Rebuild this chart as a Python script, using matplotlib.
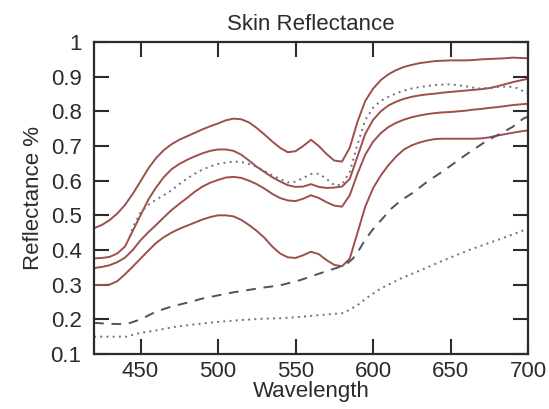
import matplotlib
matplotlib.use("Agg")
import matplotlib.pyplot as plt

# wavelength grid used by the four measured skin spectra (solid lines)
wl = [420, 425, 430, 435, 440, 445, 450, 455, 460, 465, 470, 475, 480, 485,
      490, 495, 500, 505, 510, 515, 520, 525, 530, 535, 540, 545, 550, 555,
      560, 565, 570, 575, 580, 585, 590, 595, 600, 605, 610, 615, 620, 625,
      630, 635, 640, 645, 650, 655, 660, 665, 670, 675, 680, 685, 690, 695, 700]

skin_1 = [0.463, 0.472, 0.486, 0.505, 0.530, 0.562, 0.598, 0.635, 0.665, 0.688,
          0.705, 0.718, 0.728, 0.738, 0.748, 0.757, 0.765, 0.774, 0.779, 0.777,
          0.768, 0.752, 0.733, 0.713, 0.695, 0.682, 0.685, 0.700, 0.718, 0.700,
          0.677, 0.658, 0.655, 0.695, 0.770, 0.830, 0.865, 0.890, 0.907, 0.919,
          0.928, 0.934, 0.939, 0.942, 0.945, 0.946, 0.947, 0.947, 0.947, 0.948,
          0.950, 0.951, 0.952, 0.953, 0.955, 0.954, 0.953]
skin_2 = [0.376, 0.377, 0.380, 0.390, 0.410, 0.455, 0.500, 0.545, 0.580, 0.610,
          0.633, 0.648, 0.660, 0.670, 0.679, 0.686, 0.690, 0.690, 0.686, 0.675,
          0.658, 0.640, 0.625, 0.610, 0.598, 0.587, 0.582, 0.583, 0.590, 0.582,
          0.579, 0.580, 0.583, 0.605, 0.670, 0.735, 0.775, 0.800, 0.817, 0.828,
          0.836, 0.842, 0.846, 0.849, 0.851, 0.854, 0.856, 0.858, 0.860, 0.862,
          0.864, 0.867, 0.872, 0.878, 0.884, 0.889, 0.894]
skin_3 = [0.348, 0.351, 0.356, 0.365, 0.378, 0.400, 0.428, 0.451, 0.472, 0.494,
          0.515, 0.533, 0.550, 0.568, 0.583, 0.594, 0.602, 0.609, 0.611, 0.608,
          0.600, 0.590, 0.577, 0.562, 0.550, 0.543, 0.541, 0.548, 0.558, 0.550,
          0.538, 0.528, 0.525, 0.558, 0.620, 0.675, 0.712, 0.737, 0.755, 0.767,
          0.776, 0.783, 0.788, 0.792, 0.795, 0.797, 0.798, 0.800, 0.802, 0.805,
          0.807, 0.810, 0.812, 0.815, 0.818, 0.820, 0.822]
skin_4 = [0.299, 0.299, 0.300, 0.310, 0.330, 0.352, 0.375, 0.398, 0.420, 0.437,
          0.450, 0.461, 0.470, 0.479, 0.488, 0.495, 0.500, 0.500, 0.497, 0.487,
          0.472, 0.455, 0.435, 0.410, 0.390, 0.379, 0.377, 0.385, 0.395, 0.388,
          0.371, 0.357, 0.353, 0.375, 0.450, 0.525, 0.578, 0.615, 0.645, 0.670,
          0.690, 0.702, 0.710, 0.716, 0.720, 0.721, 0.721, 0.721, 0.721, 0.721,
          0.722, 0.725, 0.730, 0.734, 0.738, 0.742, 0.745]

# upper dotted curve
dot_hi_wl = [443, 445, 450, 455, 460, 465, 470, 475, 480, 485, 490, 495, 500,
             505, 510, 515, 520, 525, 530, 535, 540, 545, 550, 555, 560, 565,
             570, 575, 580, 585, 590, 595, 600, 605, 610, 615, 620, 625, 630,
             640, 650, 660, 668, 675, 680, 687, 693, 700]
dot_hi = [0.438, 0.465, 0.508, 0.530, 0.545, 0.558, 0.572, 0.590, 0.606, 0.620,
          0.632, 0.641, 0.648, 0.652, 0.655, 0.654, 0.648, 0.640, 0.628, 0.615,
          0.605, 0.595, 0.597, 0.608, 0.619, 0.620, 0.605, 0.587, 0.588, 0.625,
          0.705, 0.775, 0.810, 0.830, 0.842, 0.852, 0.860, 0.866, 0.870, 0.876,
          0.878, 0.872, 0.866, 0.867, 0.870, 0.872, 0.867, 0.851]

# dashed curve
dash_wl = [420, 430, 441, 450, 460, 470, 482, 490, 501, 510, 520, 530, 540, 553,
           566, 579, 583, 587, 591, 595, 600, 605, 612, 618, 625, 635, 646, 660,
           674, 682, 690, 697, 700]
dash = [0.190, 0.187, 0.186, 0.200, 0.222, 0.237, 0.250, 0.260, 0.270, 0.278,
        0.285, 0.292, 0.298, 0.313, 0.333, 0.352, 0.360, 0.375, 0.400, 0.430,
        0.460, 0.485, 0.520, 0.543, 0.563, 0.597, 0.630, 0.675, 0.717, 0.735,
        0.755, 0.779, 0.785]

# lower dotted curve
dot_lo_wl = [420, 441, 449, 460, 473, 490, 501, 515, 530, 540, 553, 565, 581,
             590, 597, 605, 618, 631, 646, 662, 683, 699]
dot_lo = [0.150, 0.150, 0.160, 0.168, 0.179, 0.188, 0.193, 0.198, 0.202, 0.203,
          0.207, 0.212, 0.218, 0.241, 0.265, 0.289, 0.318, 0.342, 0.371, 0.400,
          0.433, 0.460]

x_ticks = [450, 500, 550, 600, 650, 700]
y_ticks = [0.1, 0.2, 0.3, 0.4, 0.5, 0.6, 0.7, 0.8, 0.9, 1.0]
y_labels = ["0.1", "0.2", "0.3", "0.4", "0.5", "0.6", "0.7", "0.8", "0.9", "1"]

plt.rcParams['font.family'] = ['Liberation Sans', 'DejaVu Sans']
text_col = '#2b2b2b'

fig = plt.figure(figsize=(5.49, 4.09), dpi=100)
ax = fig.add_axes([94 / 549, 55 / 409, 434 / 549, 312 / 409])

solid_col = '#9e4f4c'
for s in (skin_1, skin_2, skin_3, skin_4):
    ax.plot(wl, s, color=solid_col, linewidth=1.4)
ax.plot(dot_hi_wl, dot_hi, color='#6e7080', linewidth=1.4, linestyle=(0, (1, 2.2)))
ax.plot(dash_wl, dash, color='#4a5263', linewidth=1.4, linestyle=(0, (5, 4)))
ax.plot(dot_lo_wl, dot_lo, color='#6e7080', linewidth=1.4, linestyle=(0, (1, 2.2)))

ax.set_xlim(420, 700)
ax.set_ylim(0.1, 1.0)
ax.set_xticks(x_ticks)
ax.set_yticks(y_ticks)
ax.set_yticklabels(y_labels)

ax.tick_params(direction='in', length=11, width=1.5, colors='#2b2b2b',
               top=True, right=True, labelsize=16, labelcolor=text_col)
ax.tick_params(axis='x', pad=5)
ax.tick_params(axis='y', pad=9)
for sp in ax.spines.values():
    sp.set_linewidth(1.6)
    sp.set_color('#2b2b2b')

ax.set_title('Skin Reflectance', fontsize=16, color=text_col, pad=9)
ax.set_xlabel('Wavelength', fontsize=16, color=text_col, labelpad=-1)
ax.set_ylabel('Reflectance %', fontsize=16, color=text_col, labelpad=5)

fig.savefig('out.png', dpi=100)
